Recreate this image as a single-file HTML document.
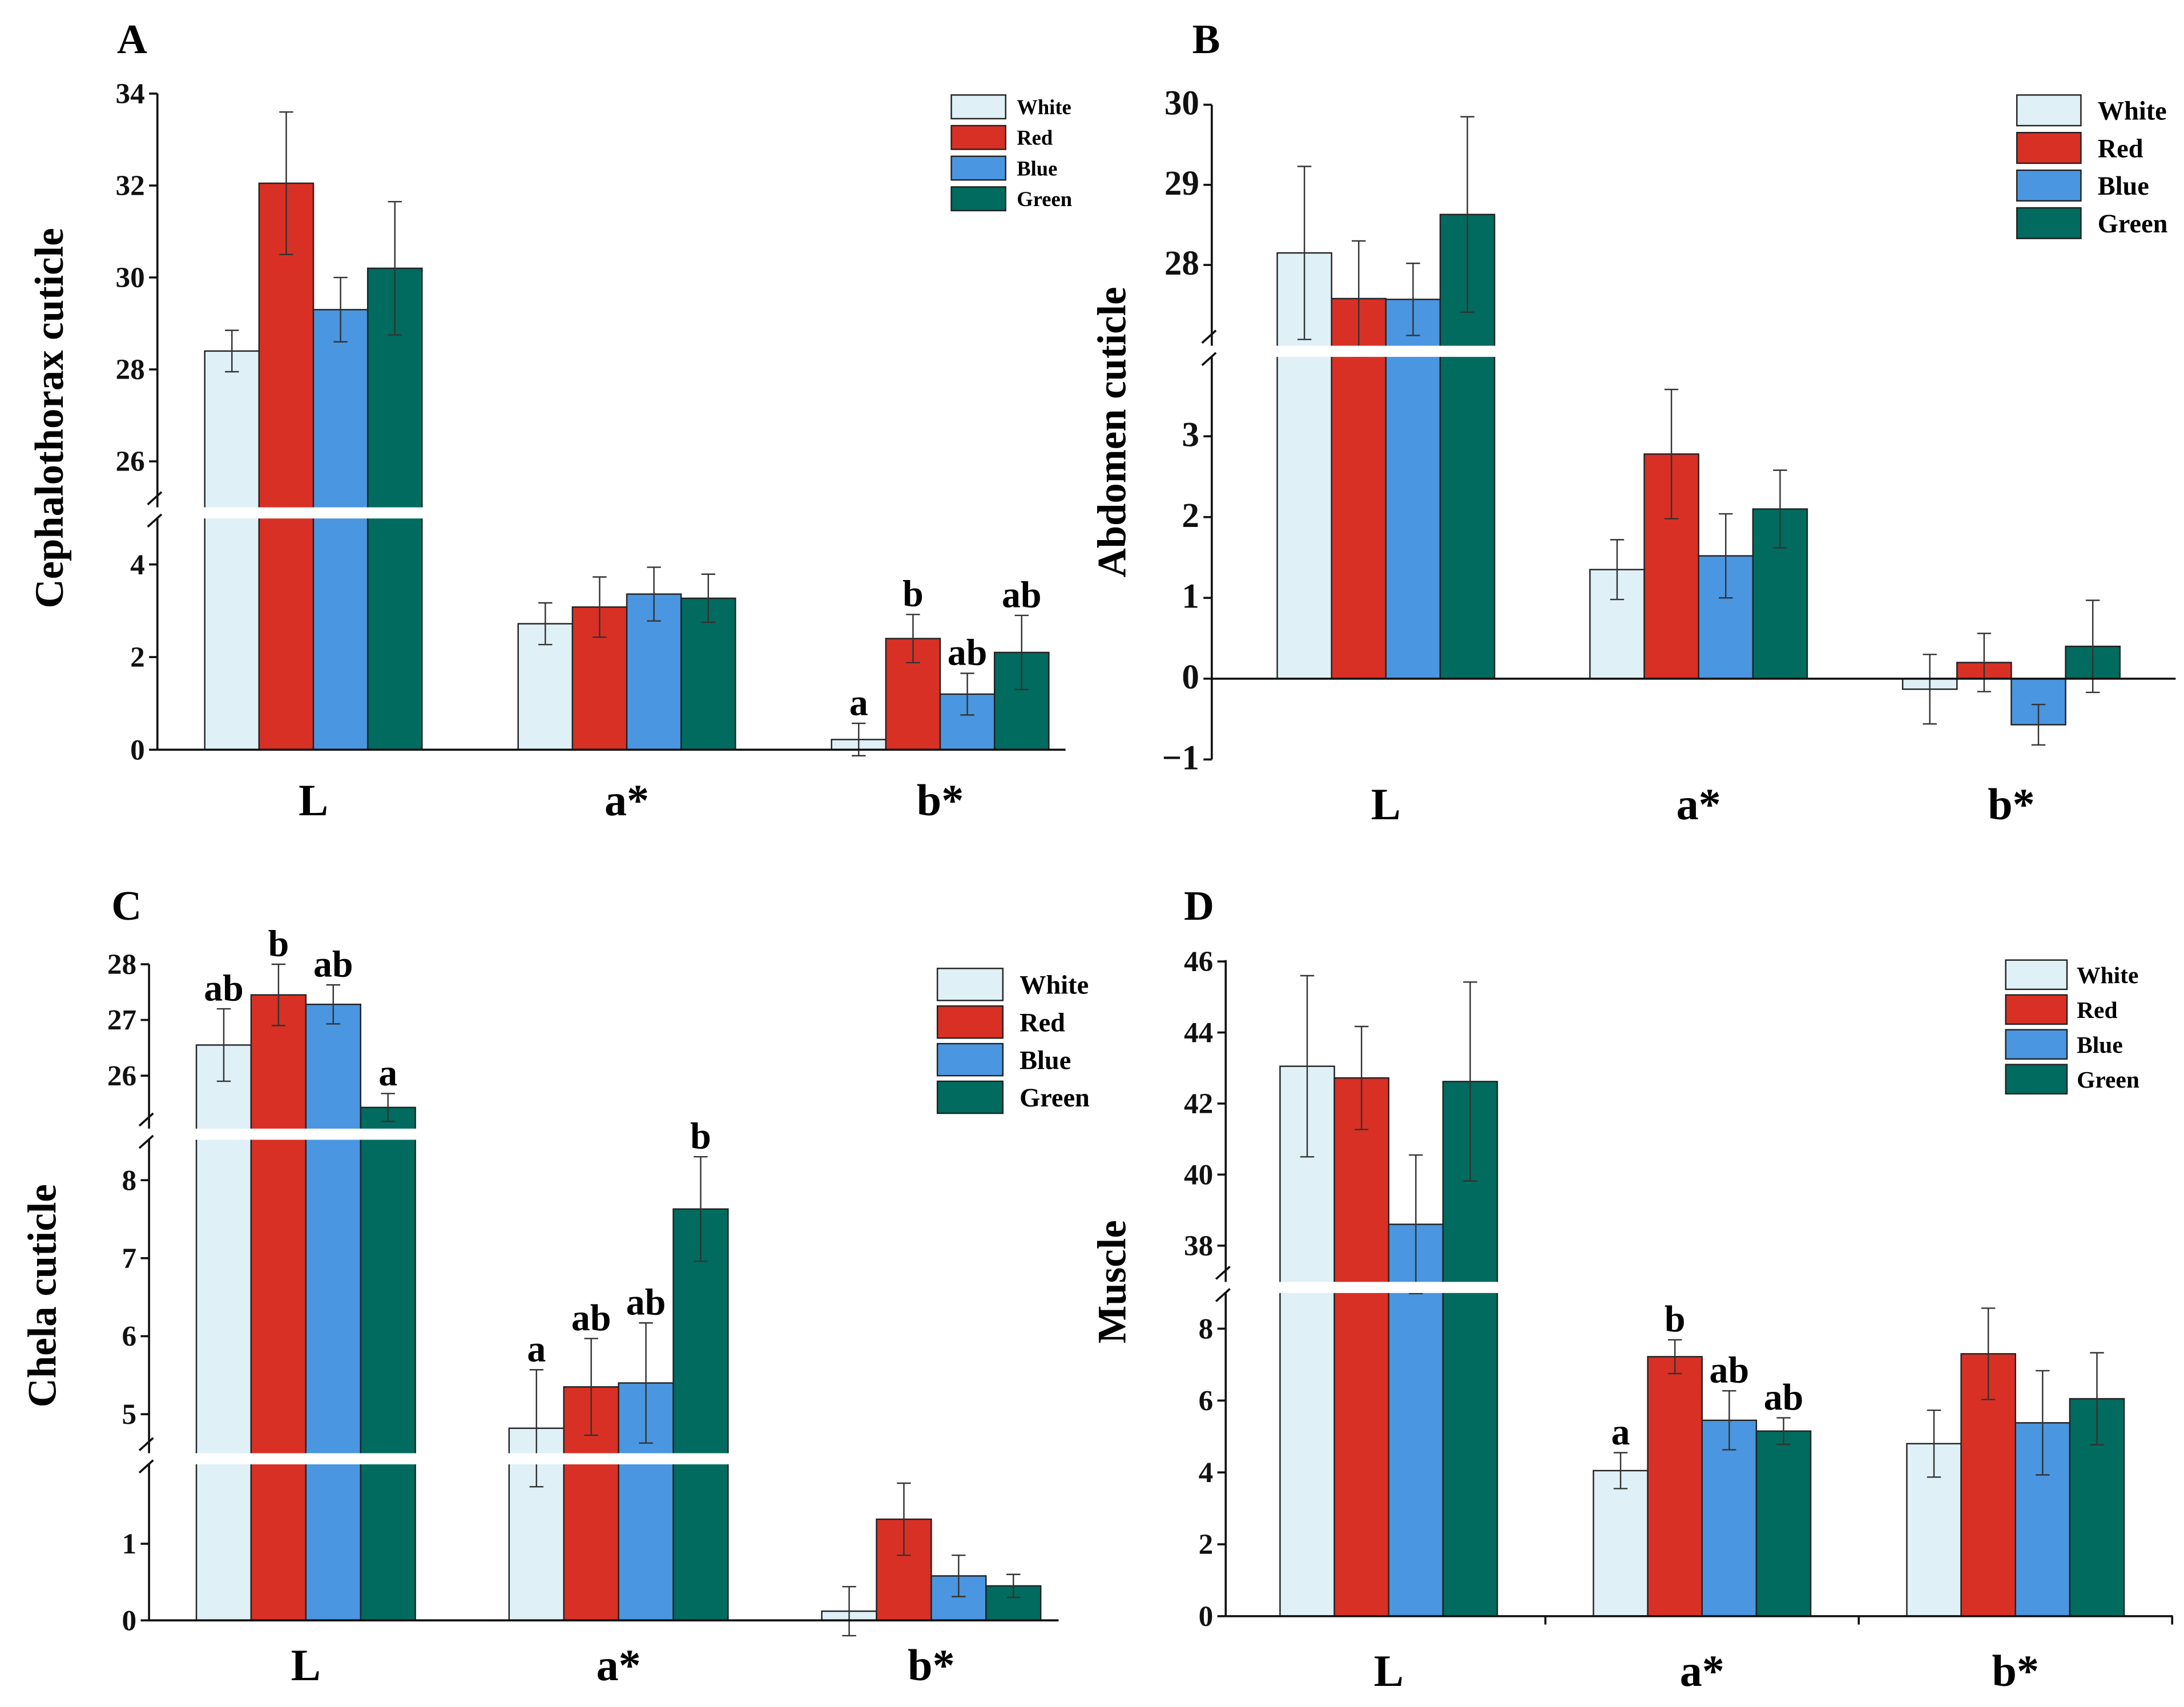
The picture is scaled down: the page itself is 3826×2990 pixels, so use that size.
<!DOCTYPE html>
<html><head><meta charset="utf-8"><style>
html,body{margin:0;padding:0;background:#fff;}
svg{display:block;font-family:"Liberation Serif",serif;font-weight:bold;}
</style></head><body>
<svg id="fig" width="3826" height="2990" viewBox="0 0 1568 1225" xmlns="http://www.w3.org/2000/svg"></svg>
<script>
const categories = ['L','a*','b*'];
const seriesNames = ['White','Red','Blue','Green'];
const seriesColors = ['#dff0f7','#d93025','#4a96e0','#006b5e'];

const meansA = [[28.4,32.05,29.3,30.2],[2.72,3.08,3.36,3.27],[0.22,2.4,1.2,2.1]];
const errsA  = [[0.45,1.55,0.7,1.45],[0.45,0.65,0.58,0.52],[0.35,0.52,0.45,0.8]];
const lettersA = [['','','',''],['','','',''],['a','b','ab','ab']];

const meansB = [[28.15,27.58,27.57,28.63],[1.35,2.78,1.52,2.1],[-0.13,0.2,-0.57,0.4]];
const errsB  = [[1.08,0.72,0.45,1.22],[0.37,0.8,0.52,0.48],[0.43,0.36,0.25,0.57]];
const lettersB = [['','','',''],['','','',''],['','','','']];

const meansC = [[26.55,27.45,27.28,25.43],[4.82,5.35,5.4,7.63],[0.12,1.32,0.58,0.45]];
const errsC  = [[0.65,0.55,0.35,0.25],[0.75,0.62,0.77,0.67],[0.32,0.47,0.27,0.15]];
const lettersC = [['ab','b','ab','a'],['a','ab','ab','b'],['','','','']];

const meansD = [[43.05,42.72,38.6,42.62],[4.05,7.22,5.45,5.15],[4.8,7.3,5.38,6.05]];
const errsD  = [[2.55,1.45,1.95,2.8],[0.5,0.47,0.82,0.37],[0.93,1.27,1.45,1.28]];
const lettersD = [['','','',''],['a','b','ab','ab'],['','','','']];

const ticksA = [[0,2,4],[26,28,30,32,34]];
const ticksB = [[-1,0,1,2,3],[28,29,30]];
const ticksC = [[0,1],[5,6,7,8],[26,27,28]];
const ticksD = [[0,2,4,6,8],[38,40,42,44,46]];

const NS='http://www.w3.org/2000/svg';
const svg=document.getElementById('fig');
function el(tag,attrs,parent,text){const e=document.createElementNS(NS,tag);for(const k in attrs)e.setAttribute(k,attrs[k]);if(text!==undefined)e.textContent=text;(parent||svg).appendChild(e);return e;}

const panels=[
 {id:'a',label:'A',lx:84,ly:38,title:'Cephalothorax cuticle',tx:45,ty:300,ax:113,yTop:67,yBot:538,xEnd:765,xAxisY:538,
  g0:147,gStep:225,bw:39,
  segs:[{lo:-10,hi:10,ref:0,py:538,k:33.25,ticks:ticksA[0]},{lo:10,hi:99,ref:26,py:331,k:33,ticks:ticksA[1]}],
  bands:[368],means:meansA,errs:errsA,letters:lettersA,
  leg:{x:683,y:68,w:39,h:17,dy:22,fs:15,tx:730}, catY:585, tickFs:21, xTicks:false},
 {id:'b',label:'B',lx:856,ly:38,title:'Abdomen cuticle',tx:808,ty:310,ax:870,yTop:75,yBot:545,xEnd:1562,xAxisY:487,
  g0:917,gStep:224.5,bw:39,
  segs:[{lo:-10,hi:10,ref:0,py:487,k:58,ticks:ticksB[0]},{lo:10,hi:99,ref:28,py:190,k:57.5,ticks:ticksB[1]}],
  bands:[252],means:meansB,errs:errsB,letters:lettersB,
  leg:{x:1448,y:68,w:46,h:22,dy:27,fs:19,tx:1506}, catY:588, tickFs:25, xTicks:false},
 {id:'c',label:'C',lx:80,ly:660,title:'Chela cuticle',tx:40,ty:930,ax:107,yTop:692,yBot:1163,xEnd:760,xAxisY:1163,
  g0:141,gStep:224.5,bw:39.3,
  segs:[{lo:-10,hi:3,ref:0,py:1163,k:55,ticks:ticksC[0]},{lo:3,hi:15,ref:5,py:1015,k:56,ticks:ticksC[1]},{lo:15,hi:99,ref:26,py:772,k:40,ticks:ticksC[2]}],
  bands:[1047,814],means:meansC,errs:errsC,letters:lettersC,
  leg:{x:673,y:695,w:47,h:23,dy:27,fs:19,tx:732}, catY:1206, tickFs:21, xTicks:false},
 {id:'d',label:'D',lx:850,ly:660,title:'Muscle',tx:808,ty:920,ax:880,yTop:689,yBot:1160,xEnd:1560,xAxisY:1160,
  g0:919,gStep:225,bw:39,
  segs:[{lo:-10,hi:15,ref:0,py:1160,k:25.8,ticks:ticksD[0]},{lo:15,hi:99,ref:38,py:894,k:25.5,ticks:ticksD[1]}],
  bands:[924],means:meansD,errs:errsD,letters:lettersD,
  leg:{x:1440,y:689,w:44,h:21,dy:25,fs:17,tx:1491}, catY:1210, tickFs:21, xTicks:true}
];

function segFor(p,v){for(const s of p.segs){if(v>=s.lo&&v<s.hi)return s;}return p.segs[p.segs.length-1];}
function yOf(s,v){return s.py-(v-s.ref)*s.k;}

panels.forEach(p=>{
  const g=el('g',{});
  
  
  const base=yOf(p.segs[0],0);
  p.means.forEach((grp,ci)=>{
    grp.forEach((v,si)=>{
      const s=segFor(p,v);
      const y=yOf(s,v);
      const x=p.g0+ci*p.gStep+si*p.bw;
      const r=el('rect',{x:x,y:Math.min(y,base),width:p.bw,height:Math.abs(base-y),fill:seriesColors[si],stroke:'#222','stroke-width':1},g);
      
      
    });
  });
  const letterQueue=[];
  p.means.forEach((grp,ci)=>{
    grp.forEach((v,si)=>{
      const s=segFor(p,v);
      const e=p.errs[ci][si];
      const cx=p.g0+ci*p.gStep+si*p.bw+p.bw/2;
      const yt=yOf(s,v+e), yb=yOf(s,v-e);
      const eg=el('g',{stroke:'#333','stroke-width':1},g);
      
      
      el('line',{x1:cx,x2:cx,y1:yt,y2:yb},eg);
      el('line',{x1:cx-5,x2:cx+5,y1:yt,y2:yt},eg);
      el('line',{x1:cx-5,x2:cx+5,y1:yb,y2:yb},eg);
      const L=p.letters[ci][si];
      if(L)letterQueue.push([cx,yt,L]);
    });
  });
  p.bands.forEach(by=>{
    const b=el('rect',{x:p.ax-3,y:by-4,width:p.xEnd-p.ax,height:8,fill:'#fff'},g);
    
    
  });
  letterQueue.forEach(q=>{
    const t=el('text',{x:q[0],y:q[1]-6,'text-anchor':'middle','font-size':27},g,q[2]);
    
    
  });
  const ax=el('g',{stroke:'#111','stroke-width':1.5},g);
  
  
  const bands=p.bands.slice().sort((a,b)=>a-b);
  let y0=p.yTop;
  bands.forEach(by=>{el('line',{x1:p.ax,x2:p.ax,y1:y0,y2:by-4},ax);
    el('line',{x1:p.ax-7,x2:p.ax+3,y1:by-6,y2:by-15},ax);
    el('line',{x1:p.ax-7,x2:p.ax+3,y1:by+10,y2:by+1},ax);
    y0=by+4;});
  el('line',{x1:p.ax,x2:p.ax,y1:y0,y2:p.yBot},ax);
  p.segs.forEach(s=>{s.ticks.forEach(tv=>{
    const ty=yOf(s,tv);
    el('line',{x1:p.ax-6,x2:p.ax,y1:ty,y2:ty},ax);
    const t=el('text',{x:p.ax-9,y:ty+7,'text-anchor':'end','font-size':p.tickFs,stroke:'none',fill:'#111'},g,tv<0?'\u22121':String(tv));
    
    
  });});
  const xa=el('line',{x1:p.ax,x2:p.xEnd,y1:p.xAxisY,y2:p.xAxisY,stroke:'#111','stroke-width':1.5},g);
  
  
  if(p.xTicks){[1,2,3].forEach(i=>{
    const tx=p.g0+4*p.bw+(p.gStep-4*p.bw)/2+(i-1)*p.gStep;
    el('line',{x1:tx,x2:tx,y1:p.xAxisY,y2:p.xAxisY+6,stroke:'#111','stroke-width':1.5},g);});}
  categories.forEach((c,ci)=>{
    const t=el('text',{x:p.g0+ci*p.gStep+2*p.bw,y:p.catY,'text-anchor':'middle','font-size':32},g,c);
    
    
  });
  const yt=el('text',{x:p.tx,y:p.ty,'text-anchor':'middle','font-size':29,transform:'rotate(-90 '+p.tx+' '+p.ty+')'},g,p.title);
  
  
  const pl=el('text',{x:p.lx,y:p.ly,'font-size':30},g,p.label);
  
  
  const lg=el('g',{},g);
  
  
  seriesNames.forEach((n,si)=>{
    const eg=el('g',{},lg);
    
    
    el('rect',{x:p.leg.x,y:p.leg.y+si*p.leg.dy,width:p.leg.w,height:p.leg.h,fill:seriesColors[si],stroke:'#222','stroke-width':1},eg);
    el('text',{x:p.leg.tx,y:p.leg.y+si*p.leg.dy+p.leg.h*0.5+p.leg.fs*0.35,'font-size':p.leg.fs},eg,n);
  });
});
</script>
</body></html>
